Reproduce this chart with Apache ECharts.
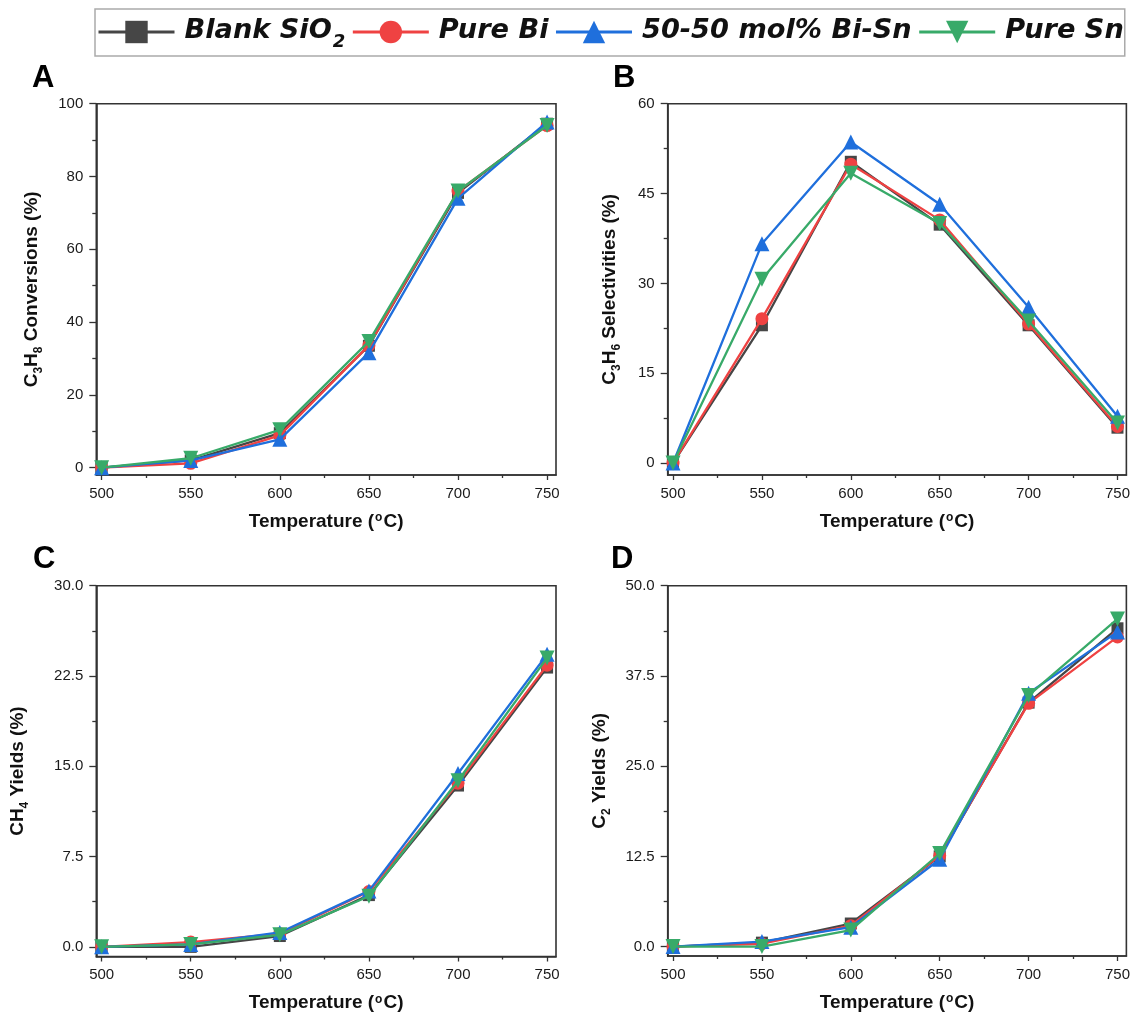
<!DOCTYPE html>
<html>
<head>
<meta charset="utf-8">
<script src="https://cdn.jsdelivr.net/npm/echarts@6/dist/echarts.min.js"></script>
<style>html,body{margin:0;padding:0;background:#fff}#c{width:1133px;height:1018px}</style>
</head>
<body>
<div id="c"></div>
<script>
// ---------- data ----------
const temperatures = [500, 550, 600, 650, 700, 750];
const seriesNames = ['Blank SiO2', 'Pure Bi', '50-50 mol% Bi-Sn', 'Pure Sn'];

// Panel A: C3H8 conversions (%)
const convBlank = [0, 2.0, 9.5, 33.5, 75.5, 94.5];
const convBi    = [0, 1.2, 8.9, 33.6, 76.0, 94.0];
const convBiSn  = [0, 2.0, 7.8, 31.6, 74.0, 95.0];
const convSn    = [0, 2.6, 10.4, 34.7, 76.0, 94.0];

// Panel B: C3H6 selectivities (%)
const selBlank = [0, 23.0, 50.3, 39.8, 23.0, 5.9];
const selBi    = [0, 24.1, 49.9, 40.6, 23.2, 6.1];
const selBiSn  = [0, 36.6, 53.6, 43.2, 26.0, 7.8];
const selSn    = [0, 30.7, 48.4, 40.0, 23.7, 6.7];

// Panel C: CH4 yields (%)
const ch4Blank = [0, 0.0, 0.9, 4.3, 13.4, 23.2];
const ch4Bi    = [0, 0.4, 1.1, 4.6, 13.6, 23.4];
const ch4BiSn  = [0, 0.2, 1.2, 4.65, 14.4, 24.3];
const ch4Sn    = [0, 0.2, 1.0, 4.2, 13.8, 24.0];

// Panel D: C2 yields (%)
const c2Blank = [0, 0.55, 3.2, 12.5, 33.8, 44.1];
const c2Bi    = [0, 0.4, 2.9, 12.6, 33.7, 42.9];
const c2BiSn  = [0, 0.7, 2.7, 12.1, 35.1, 43.6];
const c2Sn    = [0, 0.0, 2.3, 12.9, 34.8, 45.4];

// tick values
const xTicks = [500, 550, 600, 650, 700, 750];
const xMinorTicks = [525, 575, 625, 675, 725];
const yTicksA = [0, 20, 40, 60, 80, 100];
const yMinorA = [10, 30, 50, 70, 90];
const yTicksB = [0, 15, 30, 45, 60];
const yMinorB = [7.5, 22.5, 37.5, 52.5];
const yTicksC = [0, 7.5, 15, 22.5, 30];
const yMinorC = [3.75, 11.25, 18.75, 26.25];
const yTicksD = [0, 12.5, 25, 37.5, 50];
const yMinorD = [6.25, 18.75, 31.25, 43.75];

// ---------- styling ----------
const FONT = '"Liberation Sans", Arial, sans-serif';
const colors = ['#464646', '#EF4242', '#1F6FDC', '#38AA69'];
const symbols = ['rect', 'circle', 'triangle', 'triangle'];
const symbolRot = [0, 0, 0, 180];
const symbolSizes = [12, 13, 15, 15];
const AXIS_COLOR = '#333';

const panels = [
  { grid: {left: 96.3, top: 103.7, width: 459.7, height: 371.3},
    yMin: -2, yMax: 100, ticks: yTicksA, minor: yMinorA, dec: 0,
    name: '{b|C}{s|3}{b|H}{s|8}{b| Conversions (%)}', nameGap: 53,
    data: [convBlank, convBi, convBiSn, convSn], letter: 'A', lx: 32, ly: 81 },
  { grid: {left: 667.7, top: 103.7, width: 460, height: 371.3},
    yMin: -2, yMax: 60, ticks: yTicksB, minor: yMinorB, dec: 0,
    name: '{b|C}{s|3}{b|H}{s|6}{b| Selectivities (%)}', nameGap: 46,
    data: [selBlank, selBi, selBiSn, selSn], letter: 'B', lx: 613, ly: 81 },
  { grid: {left: 96.3, top: 585.7, width: 459.7, height: 370.8},
    yMin: -0.8, yMax: 30, ticks: yTicksC, minor: yMinorC, dec: 1,
    name: '{b|CH}{s|4}{b| Yields (%)}', nameGap: 67,
    data: [ch4Blank, ch4Bi, ch4BiSn, ch4Sn], letter: 'C', lx: 33, ly: 562 },
  { grid: {left: 667.7, top: 585.7, width: 460, height: 370.3},
    yMin: -1.3, yMax: 50, ticks: yTicksD, minor: yMinorD, dec: 1,
    name: '{b|C}{s|2}{b| Yields (%)}', nameGap: 56,
    data: [c2Blank, c2Bi, c2BiSn, c2Sn], letter: 'D', lx: 611, ly: 562 }
];

const X_MIN = 497, X_MAX = 755;

const nameRich = {
  b: {fontFamily: FONT, fontSize: 19, fontWeight: 'bold', color: '#111', lineHeight: 21, verticalAlign: 'top'},
  s: {fontFamily: FONT, fontSize: 12, fontWeight: 'bold', color: '#111', lineHeight: 12, verticalAlign: 'top', padding: [10, 0, 0, 0]},
  sup: {fontFamily: FONT, fontSize: 12, fontWeight: 'bold', color: '#111', lineHeight: 12, verticalAlign: 'top', padding: [0, 1, 0, 1]}
};

const grids = [], xAxes = [], yAxes = [], series = [], graphics = [];

function tickAxis(kind, i, min, max, values, len) {
  return {
    type: 'value', gridIndex: i, min: min, max: max, position: kind === 'x' ? 'bottom' : 'left', offset: 0,
    axisLine: {show: false, onZero: false},
    axisTick: {show: true, inside: false, customValues: values, length: len, lineStyle: {color: AXIS_COLOR, width: 1.3}},
    axisLabel: {show: false}, splitLine: {show: false}
  };
}

panels.forEach((p, i) => {
  grids.push(Object.assign({show: true, borderColor: AXIS_COLOR, borderWidth: 1.6, backgroundColor: 'transparent'}, p.grid));
  // main x axis (line + labels + name)
  xAxes.push({
    type: 'value', gridIndex: i, min: X_MIN, max: X_MAX, position: 'bottom',
    axisLine: {show: true, onZero: false, lineStyle: {color: AXIS_COLOR, width: 1.6}},
    axisTick: {show: false},
    axisLabel: {show: true, customValues: xTicks, margin: 11, fontSize: 15, color: '#1a1a1a', fontFamily: FONT},
    splitLine: {show: false},
    name: '{b|Temperature (}{sup|o}{b|C)}', nameLocation: 'middle', nameGap: 37,
    nameTextStyle: {rich: nameRich}
  });
  xAxes.push(tickAxis('x', i, X_MIN, X_MAX, xTicks, 5));
  xAxes.push(tickAxis('x', i, X_MIN, X_MAX, xMinorTicks, 3));
  // main y axis
  yAxes.push({
    type: 'value', gridIndex: i, min: p.yMin, max: p.yMax, position: 'left',
    axisLine: {show: true, onZero: false, lineStyle: {color: AXIS_COLOR, width: 1.6}},
    axisTick: {show: false},
    axisLabel: {show: true, customValues: p.ticks, margin: 13, fontSize: 15, color: '#1a1a1a', fontFamily: FONT,
                formatter: v => Number(v).toFixed(p.dec)},
    splitLine: {show: false},
    name: p.name, nameLocation: 'middle', nameGap: p.nameGap,
    nameTextStyle: {rich: nameRich}
  });
  yAxes.push(tickAxis('y', i, p.yMin, p.yMax, p.ticks, 7));
  yAxes.push(tickAxis('y', i, p.yMin, p.yMax, p.minor, 4));
  p.data.forEach((arr, s) => {
    series.push({
      type: 'line', name: seriesNames[s], xAxisIndex: 3 * i, yAxisIndex: 3 * i,
      data: temperatures.map((t, k) => [t, arr[k]]),
      symbol: symbols[s], symbolRotate: symbolRot[s], symbolSize: symbolSizes[s],
      lineStyle: {width: 2.3, color: colors[s]},
      itemStyle: {color: colors[s]},
      emphasis: {disabled: true}, clip: false, z: 2 + s
    });
  });
  graphics.push({
    type: 'text', left: p.lx, top: p.ly - 18,
    style: {text: p.letter, font: 'bold 31px ' + FONT, fill: '#000'}
  });
});

const chart = echarts.init(document.getElementById('c'), null, {renderer: 'canvas'});
chart.setOption({
  animation: false,
  backgroundColor: '#fff',
  grid: grids,
  xAxis: xAxes,
  yAxis: yAxes,
  series: series,
  graphic: graphics,
  legend: {
    data: seriesNames, left: 95, top: 9, orient: 'horizontal',
    itemWidth: 76, itemHeight: 28, itemGap: 6,
    padding: [8, 1, 5, 2], borderColor: '#aaa', borderWidth: 1.5,
    selectedMode: false,
    lineStyle: {width: 3},
    formatter: n => n === 'Blank SiO2' ? '{t|Blank SiO}{s|2}' : '{t|' + n + '}',
    textStyle: {
      rich: {
        t: {fontFamily: '"DejaVu Sans", sans-serif', fontWeight: 'bold', fontStyle: 'italic', fontSize: 27.2, color: '#111',
            lineHeight: 30, verticalAlign: 'top', padding: [0, 0, 0, 5]},
        s: {fontFamily: '"DejaVu Sans", sans-serif', fontWeight: 'bold', fontStyle: 'italic', fontSize: 18, color: '#111',
            lineHeight: 18, verticalAlign: 'top', padding: [16, 0, 0, 1]}
      }
    }
  }
});
</script>
</body>
</html>
